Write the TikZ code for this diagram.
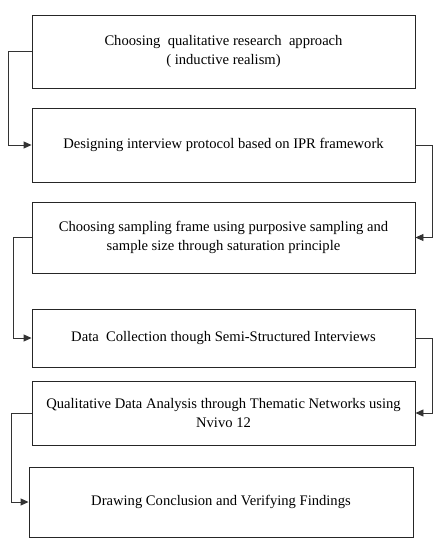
\documentclass[tikz,border=0pt]{standalone}
\usepackage{fontspec}
\setmainfont{Liberation Serif}
\usetikzlibrary{arrows.meta}
\begin{document}
\begin{tikzpicture}[x=1pt,y=-1pt,
  stepbox/.style={draw=black!85,line width=0.9pt,inner sep=0pt,align=center,
    minimum width=383pt,font=\fontsize{14.6}{19}\selectfont},
  link/.style={draw=black!80,line width=0.9pt,-{Triangle[length=8pt,width=7pt]}}]
\useasboundingbox[fill=white] (0,0) rectangle (443,550);
\node[stepbox,minimum height=73pt] (b1) at (223.5,51.5) {Choosing\ \ qualitative research\ \ approach\\( inductive realism)};
\node[stepbox,minimum height=74pt] (b2) at (223.5,145) {Designing interview protocol based on IPR framework};
\node[stepbox,minimum height=71pt] (b3) at (223.5,237.5) {Choosing sampling frame using purposive sampling and\\sample size through saturation principle};
\node[stepbox,minimum height=58pt] (b4) at (223.5,338) {Data\ \ Collection though Semi-Structured Interviews};
\node[stepbox,minimum height=64pt] (b5) at (223.5,413) {Qualitative Data Analysis through Thematic Networks using\\Nvivo 12};
\node[stepbox,minimum height=70pt,minimum width=384pt] (b6) at (221,502) {Drawing Conclusion and Verifying Findings};
\draw[link] (b1.west) -- ++(-23,0) |- (b2.west);
\draw[link] (b2.east) -- ++(17,0) |- (b3.east);
\draw[link] (b3.west) -- ++(-18,0) |- (b4.west);
\draw[link] (b4.east) -- ++(17,0) |- (b5.east);
\draw[link] (b5.west) -- ++(-20,0) |- (b6.west);
\end{tikzpicture}
\end{document}
